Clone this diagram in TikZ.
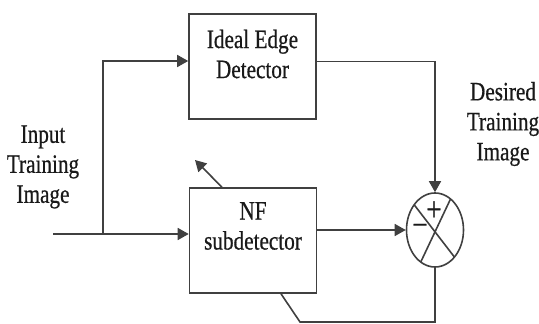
\documentclass[tikz,border=0pt]{standalone}
\usepackage{fontspec}
\newfontfamily\lblfont[FakeStretch=0.8,FakeBold=0.6]{Liberation Serif}
\usetikzlibrary{arrows.meta,shapes.geometric}
\begin{document}
\begin{tikzpicture}[x=1pt, y=-1pt, line width=1.6pt, draw=black!75,
    font=\lblfont\fontsize{26.5}{30}\selectfont, text=black!90,
    block/.style={draw, minimum width=127pt, minimum height=105pt, inner sep=0pt},
    lbl/.style={align=center, inner sep=0pt},
    sign/.style={inner sep=0pt, font=\lblfont\fontsize{34}{34}\selectfont},
    tip/.style={-{Triangle[length=11pt,width=12pt]}}]
    \useasboundingbox (0,0) rectangle (539,324);
    % place nodes
    \node [block] (ideal) at (252.5,66.5) {};
    \node [block] (nf) at (253,240.5) {};
    \node [ellipse, draw, minimum width=57pt, minimum height=74pt, inner sep=0pt] (sum) at (435,230) {};
    \node [lbl] (idealtxt) at (252.5,54) {Ideal Edge\\Detector};
    \node [lbl] (nftxt) at (253,226) {NF\\subdetector};
    \node [lbl] (input) at (43,167) {Input\\Training\\Image};
    \node [lbl] (desired) at (503,124) {Desired\\Training\\Image};
    \node [sign] (plus) at (434,211) {+};
    \node [sign] (minus) at (420,230) {−};
    \coordinate (in) at (53,234);
    \coordinate (split) at (103,234);
    \coordinate (back) at (300,322);
    \coordinate (adapt) at (195,160);
    % draw edges
    \draw [tip] (in) -- (in -| nf.west);
    \draw [tip] (split) |- ([yshift=5.5pt]ideal.west);
    \draw [tip] ([yshift=5pt]ideal.east) -| (sum.north);
    \draw [tip] (nf.east |- sum) -- (sum.west);
    \draw (sum.south) |- (back) -- ([xshift=28pt]nf.south);
    \draw [tip] ([xshift=-31pt]nf.north) -- (adapt);
    % cross in the summing node
    \draw [shift={(sum.center)}] (57:28.5pt and 37pt) -- (240:28.5pt and 37pt);
    \draw [shift={(sum.center)}] (137:28.5pt and 37pt) -- (313:28.5pt and 37pt);
\end{tikzpicture}
\end{document}
